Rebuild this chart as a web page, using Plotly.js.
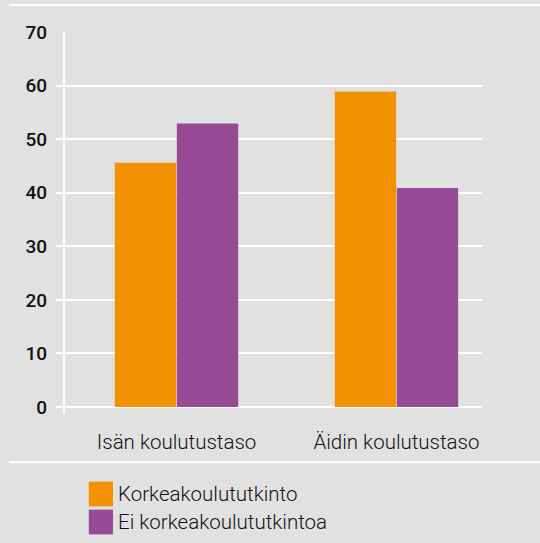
<!DOCTYPE html>
<html>
<head>
<meta charset="utf-8">
<script src="https://cdn.plot.ly/plotly-3.0.1.min.js"></script>
<style>html,body{margin:0;padding:0;background:#e1e1e1;}#chart{width:540px;height:543px;}</style>
</head>
<body>
<div id="chart"></div>
<script>
var categories = ["Isän koulutustaso", "Äidin koulutustaso"];
var seriesNames = ["Korkeakoulututkinto", "Ei korkeakoulututkintoa"];
var korkeakoulututkinto = [45.6, 58.9];
var eiKorkeakoulututkintoa = [52.9, 40.9];
var seriesColors = ["#f39200", "#974a96"];
var yTicks = [0, 10, 20, 30, 40, 50, 60, 70];

var values = [korkeakoulututkinto, eiKorkeakoulututkintoa];
var traces = values.map(function (v, i) {
  return {
    type: "bar",
    x: categories,
    y: v,
    name: seriesNames[i],
    marker: {color: seriesColors[i], line: {width: 0}},
    hoverinfo: "skip"
  };
});

var shapes = [
  {type: "line", xref: "paper", yref: "paper", x0: -0.11, x1: 1.14, y0: 1.072, y1: 1.072, line: {color: "#ffffff", width: 2}},
  {type: "line", xref: "paper", yref: "paper", x0: -0.11, x1: 1.14, y0: -0.147, y1: -0.147, line: {color: "#ffffff", width: 2}},
  {type: "line", xref: "paper", yref: "paper", x0: 0.0188, x1: 0.0188, y0: -0.019, y1: 1, line: {color: "#ffffff", width: 2}, layer: "below"}
];
var annotations = [];
seriesNames.forEach(function (name, i) {
  var yc = -0.232 - i * 0.0747;
  shapes.push({type: "rect", xref: "paper", yref: "paper", x0: 0.077, x1: 0.1338, y0: yc - 0.033, y1: yc + 0.033, fillcolor: seriesColors[i], line: {width: 0}});
  annotations.push({xref: "paper", yref: "paper", x: 0.141, y: yc, xanchor: "left", yanchor: "middle", text: name, showarrow: false, font: {family: "Roboto", size: 20.5, weight: 300, color: "#111111"}});
});

var layout = {
  width: 540, height: 543,
  paper_bgcolor: "#e1e1e1", plot_bgcolor: "#e1e1e1",
  margin: {l: 56, r: 58, t: 32, b: 136},
  barmode: "group",
  bargap: 0.436, bargroupgap: 0.01,
  showlegend: false,
  xaxis: {
    type: "category",
    range: [-0.548, 1.389],
    showgrid: false, zeroline: false, showline: false, ticks: "",
    ticklabelstandoff: 20,
    tickfont: {family: "Roboto", size: 20.5, weight: 300, color: "#111111"}
  },
  yaxis: {
    range: [0, 70],
    tickvals: yTicks,
    showgrid: true, gridcolor: "#ffffff", gridwidth: 2,
    zeroline: true, zerolinecolor: "#ffffff", zerolinewidth: 2,
    showline: false, ticks: "",
    ticklabelstandoff: 8,
    tickfont: {family: "Roboto", size: 19, weight: 500, color: "#111111"}
  },
  shapes: shapes,
  annotations: annotations
};

Plotly.newPlot("chart", traces, layout, {displayModeBar: false, staticPlot: true});
</script>
</body>
</html>
